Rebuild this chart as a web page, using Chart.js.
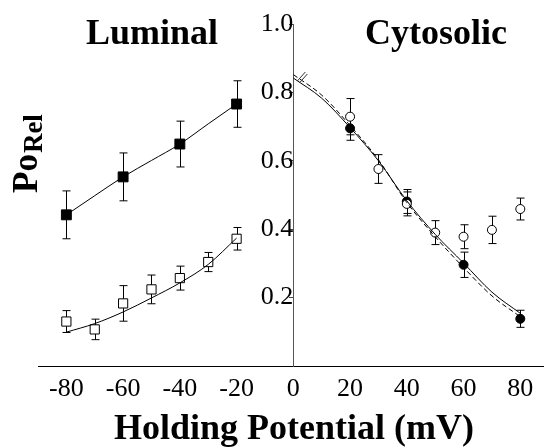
<!DOCTYPE html>
<html>
<head>
<meta charset="utf-8">
<script src="https://cdn.jsdelivr.net/npm/chart.js@4.4.1/dist/chart.umd.min.js"></script>
<style>
  html, body { margin: 0; padding: 0; background: #fff; overflow: hidden; }
  #wrap { width: 551px; height: 447px; }
</style>
</head>
<body>
<div id="wrap"><canvas id="myChart"></canvas></div>
<script>
// luminal side (negative holding potentials)
var lumX = [-80, -60, -40, -20];
var lumFilled = [0.442, 0.553, 0.649, 0.766];
var lumFilledErr = [0.07, 0.07, 0.067, 0.068];

var lumOpenX = [-80, -70, -60, -50, -40, -30, -20];
var lumOpen = [0.130, 0.107, 0.183, 0.224, 0.257, 0.304, 0.372];
var lumOpenErr = [0.032, 0.030, 0.052, 0.042, 0.035, 0.028, 0.033];

var lumFitX = [-80, -70, -60, -50, -40, -30, -20];
var lumFilledFit = [0.442, 0.498, 0.553, 0.601, 0.649, 0.708, 0.766];
var lumOpenFit = [0.099, 0.124, 0.158, 0.199, 0.243, 0.297, 0.374];

// cytosolic side (positive holding potentials)
var cytoFilledX = [20, 40, 60, 80];
var cytoFilled = [0.695, 0.481, 0.296, 0.138];
var cytoFilledErr = [0.035, 0.035, 0.037, 0.025];

var cytoOpenX = [20, 30, 40, 50, 60, 70, 80];
var cytoOpen = [0.729, 0.576, 0.474, 0.390, 0.378, 0.398, 0.459];
var cytoOpenErr = [0.053, 0.042, 0.035, 0.035, 0.035, 0.04, 0.032];

var cytoFitX = [0, 10, 20, 30, 40, 50, 60, 70, 80];
var cytoFitSolid = [0.842, 0.783, 0.697, 0.600, 0.483, 0.385, 0.301, 0.216, 0.154];
var cytoFitDash = [0.852, 0.792, 0.703, 0.603, 0.478, 0.378, 0.288, 0.205, 0.144];

var xTicks = [-80, -60, -40, -20, 0, 20, 40, 60, 80];
var yTicks = [0, 0.2, 0.4, 0.6, 0.8, 1.0];

function pts(xs, ys) {
    return xs.map(function (x, i) { return {x: x, y: ys[i]}; });
}

function fitLine(xs, ys, dash) {
    return {
        data: pts(xs, ys),
        showLine: true,
        borderColor: '#000',
        borderWidth: 1,
        borderDash: dash || [],
        pointRadius: 0,
        cubicInterpolationMode: 'monotone',
        fill: false
    };
}

function markers(xs, ys, errs, style, filled, radius) {
    return {
        data: pts(xs, ys),
        err: errs,
        showLine: false,
        pointStyle: style,
        pointRadius: radius,
        pointHoverRadius: radius,
        pointBorderWidth: 1,
        pointBorderColor: '#000',
        pointBackgroundColor: filled ? '#000' : '#fff'
    };
}

// error bars drawn behind the markers
var errorBars = {
    id: 'errorBars',
    beforeDatasetsDraw: function (chart) {
        var ctx = chart.ctx;
        var xs = chart.scales.x, ys = chart.scales.y;
        ctx.save();
        ctx.strokeStyle = '#000';
        ctx.lineWidth = 1;
        chart.data.datasets.forEach(function (ds) {
            if (!ds.err) return;
            ds.data.forEach(function (p, i) {
                var px = Math.round(xs.getPixelForValue(p.x)) + 0.5;
                var top = ys.getPixelForValue(p.y + ds.err[i]);
                var bot = ys.getPixelForValue(p.y - ds.err[i]);
                ctx.beginPath();
                ctx.moveTo(px, top); ctx.lineTo(px, bot);
                ctx.moveTo(px - 4, top); ctx.lineTo(px + 4, top);
                ctx.moveTo(px - 4, bot); ctx.lineTo(px + 4, bot);
                ctx.stroke();
            });
        });
        ctx.restore();
    }
};

var labels = {
    id: 'labels',
    afterDraw: function (chart) {
        var ctx = chart.ctx;
        var xs = chart.scales.x, ys = chart.scales.y;
        ctx.save();
        ctx.fillStyle = '#000';
        ctx.textAlign = 'center';
        ctx.textBaseline = 'alphabetic';
        ctx.font = 'bold 36px "Liberation Serif"';
        ctx.fillText('Luminal', 152, 44);
        ctx.fillText('Cytosolic', 436, 44);
        ctx.fillText('Holding Potential (mV)', 294, 439);

        // y title, rotated
        ctx.translate(37, 193);
        ctx.rotate(-Math.PI / 2);
        ctx.textAlign = 'left';
        ctx.font = 'bold 35px "Liberation Serif"';
        ctx.fillText('Po', 0, 0);
        var w = ctx.measureText('Po').width;
        ctx.font = 'bold 27px "Liberation Serif"';
        ctx.fillText('Rel', w + 1, 5);
        ctx.restore();

        // axis break mark
        var bx = xs.getPixelForValue(0), by = ys.getPixelForValue(0.845);
        ctx.save();
        ctx.strokeStyle = '#333';
        ctx.lineWidth = 1;
        ctx.beginPath();
        ctx.moveTo(bx + 4, by + 4); ctx.lineTo(bx + 12, by - 5);
        ctx.moveTo(bx + 6, by + 6); ctx.lineTo(bx + 14, by - 3);
        ctx.stroke();
        ctx.restore();
    }
};

var ctx = document.getElementById('myChart').getContext('2d');
var myChart = new Chart(ctx, {
    type: 'scatter',
    data: {
        datasets: [
            fitLine(lumFitX, lumFilledFit),
            fitLine(lumFitX, lumOpenFit),
            fitLine(cytoFitX, cytoFitSolid),
            fitLine(cytoFitX, cytoFitDash, [5, 3]),
            markers(lumX, lumFilled, lumFilledErr, 'rect', true, 7),
            markers(lumOpenX, lumOpen, lumOpenErr, 'rect', false, 6.5),
            markers(cytoOpenX, cytoOpen, cytoOpenErr, 'circle', false, 4.5),
            markers(cytoFilledX, cytoFilled, cytoFilledErr, 'circle', true, 4.5)
        ]
    },
    options: {
        responsive: true,
        maintainAspectRatio: false,
        animation: false,
        layout: { padding: { left: 38, right: 1, top: 24, bottom: 0 } },
        plugins: {
            legend: { display: false },
            tooltip: { enabled: false }
        },
        scales: {
            x: {
                type: 'linear',
                min: -90,
                max: 88,
                afterBuildTicks: function (s) { s.ticks = xTicks.map(function (v) { return {value: v}; }); },
                afterFit: function (s) { s.height = 81; s.paddingLeft = 0; s.paddingRight = 0; },
                grid: { display: false, drawTicks: false },
                border: { display: true, color: '#000', width: 1 },
                ticks: {
                    color: '#000',
                    padding: 8,
                    maxRotation: 0,
                    autoSkip: false,
                    font: { family: '"Liberation Serif"', size: 26 },
                    callback: function (v) { return String(v); }
                }
            },
            y: {
                type: 'linear',
                position: { x: 0 },
                min: 0,
                max: 1.0,
                afterBuildTicks: function (s) { s.ticks = yTicks.map(function (v) { return {value: v}; }); },
                afterFit: function (s) { s.width = 0; s.paddingTop = 0; s.paddingBottom = 0; },
                grid: { drawOnChartArea: false, drawTicks: true, tickLength: 4, color: '#444' },
                border: { display: true, color: '#555', width: 1 },
                ticks: {
                    color: '#000',
                    padding: 1,
                    autoSkip: false,
                    font: { family: '"Liberation Serif"', size: 26 },
                    callback: function (v) { return v === 0 ? '' : v.toFixed(1); }
                }
            }
        }
    },
    plugins: [errorBars, labels]
});
</script>
</body>
</html>
